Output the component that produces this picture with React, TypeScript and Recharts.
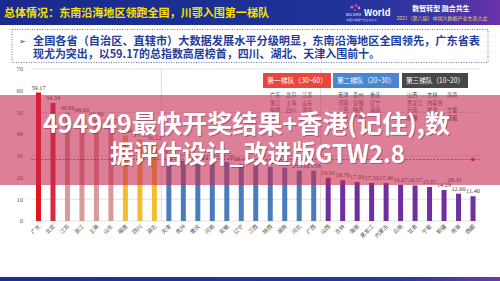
import React from 'react';
import { BarChart, Bar, XAxis, YAxis, CartesianGrid, LabelList, Cell, ReferenceLine, ReferenceDot } from 'recharts';

const provinces = ['广东', '北京', '江苏', '浙江', '上海', '山东', '福建', '四川', '湖北', '天津', '贵州', '重庆', '河南', '安徽', '辽宁', '江西', '陕西', '湖南', '河北', '广西', '山西', '吉林', '海南', '黑龙江', '内蒙古', '云南', '甘肃', '宁夏', '新疆', '青海', '西藏'];
const scores = [59.17, 54.34, 49.8, 48.6, 46.9, 43.55, 39.34, 37.45, 36.12, 29.7, 27.72, 27.26, 27.25, 27.2, 26.15, 25.58, 24.89, 24.55, 23.19, 23.18, 19.91, 18.76, 17.93, 17.5, 17.46, 16.67, 16.37, 15.65, 14.29, 12.6, 11.4];
const groups = ['lead', 'lead', 'upper', 'upper', 'upper', 'upper', 'rising', 'rising', 'rising', 'second', 'second', 'second', 'second', 'second', 'second', 'second', 'second', 'second', 'second', 'second', 'third', 'third', 'third', 'third', 'third', 'third', 'third', 'third', 'third', 'third', 'third'];
const yTicks = [0, 10, 20, 30, 40, 50, 60, 70];
const average = 28.31;

const tierTitles = ['第一梯队（30~60）', '第二梯队（20~30）', '第三梯队（10~20）'];
const tierRows = [
  [['广东', '北京', '江苏'], ['浙江', '上海', '山东'], ['福建', '四川', '湖北']],
  [['天津', '贵州', '重庆'], ['河南', '安徽', '辽宁'], ['江西', '陕西', '湖南'], ['河北', '广西']],
  [['山西', '吉林', '海南'], ['黑龙江', '内蒙古'], ['云南', '甘肃', '宁夏'], ['新疆', '青海', '西藏']],
];

const headline = '总体情况：东南沿海地区领跑全国，川鄂入围第一梯队';
const bulletLines = [
  '全国各省（自治区、直辖市）大数据发展水平分级明显，东南沿海地区全国领先，广东省表',
  '现尤为突出，以59.17的总指数高居榜首，四川、湖北、天津入围前十。',
];
const bannerLines = ['494949最快开奖结果+香港(记住),数', '据评估设计_改进版GTW2.8'];

const data = provinces.map((name, i) => ({ name, value: scores[i], group: groups[i] }));

const groupColor: Record<string, string> = {
  lead: '#e21b25',
  upper: '#d99a9c',
  rising: '#f4bd2d',
  second: '#4a7dbb',
  third: '#6f2f9f',
};
const leadShades = ['#e8141d', '#d62a3d'];

const tierBox = [
  { x: 263, w: 68, fill: '#e8463f', cols: [7, 23, 39] },
  { x: 333, w: 66, fill: '#4a86d0', cols: [5, 20, 37] },
  { x: 402, w: 66, fill: '#474747', cols: [5, 25, 45] },
];

const CJK = '"Noto Sans CJK SC", "Noto Sans", sans-serif';
const SERIF = '"Liberation Serif", "DejaVu Serif", serif';

const App: React.FC = () => {
  return (
    <div style={{ position: 'absolute', left: 0, top: 0, width: 500, height: 281, background: '#fff', overflow: 'hidden' }}>
      {/* header + intro text */}
      <svg width={500} height={281} style={{ position: 'absolute', left: 0, top: 0 }}>
        <defs>
          <linearGradient id="hdr" x1="0" y1="0" x2="1" y2="0">
            <stop offset="0%" stopColor="#1a2a8c" />
            <stop offset="65%" stopColor="#1d3196" />
            <stop offset="88%" stopColor="#3b35a6" />
            <stop offset="100%" stopColor="#6a33a8" />
          </linearGradient>
          <linearGradient id="ftr" x1="0" y1="0" x2="1" y2="0">
            <stop offset="0%" stopColor="#1c2d95" />
            <stop offset="80%" stopColor="#2a35a8" />
            <stop offset="100%" stopColor="#6a3aa8" />
          </linearGradient>
        </defs>
        <rect x={0} y={0} width={500} height={25} fill="url(#hdr)" />
        <text x={4} y={16.5} fontSize={11} fontWeight={700} fill="#f6e300" fontFamily={CJK} textLength={265} lengthAdjust="spacingAndGlyphs">{headline}</text>
        <circle cx={352} cy={7} r={1.6} fill="#e45aa0" />
        <circle cx={356} cy={5.5} r={1.3} fill="#b84fd0" />
        <circle cx={359} cy={8} r={1.4} fill="#f07ab8" />
        <circle cx={355} cy={10} r={1.1} fill="#9a5ad8" />
        <text x={346} y={16} fontSize={3.6} fill="#fff" fontFamily={CJK}>BIG DATA</text>
        <text x={364} y={16} fontSize={9} fontWeight={700} fill="#fff" fontFamily={CJK}>World</text>
        <text x={346} y={20.5} fontSize={2.8} fill="#c9cff5" fontFamily={CJK}>中国大数据产业生态大会</text>
        <text x={441} y={11} fontSize={7} fontWeight={700} fill="#fff" fontFamily={CJK} textAnchor="middle">数智转型  融合共生</text>
        <text x={442} y={20} fontSize={5} fill="#f2d06a" fontFamily={CJK} textAnchor="middle">2021（第六届）中国大数据产业生态大会</text>

        <rect x={12} y={29.5} width={476} height={33} fill="none" stroke="#6d7a98" strokeWidth={1} strokeDasharray="1 1.5" />
        <text x={19} y={44} fontSize={8} fill="#1f3d99" fontFamily='"DejaVu Sans", sans-serif'>➢</text>
        <text x={33} y={44.5} fontSize={11.2} fontWeight={700} fill="#1f3d99" fontFamily={CJK} textLength={447} lengthAdjust="spacingAndGlyphs">{bulletLines[0]}</text>
        <text x={33} y={58} fontSize={11.2} fontWeight={700} fill="#1f3d99" fontFamily={CJK} textLength={347} lengthAdjust="spacingAndGlyphs">{bulletLines[1]}</text>

        <rect x={0} y={277} width={500} height={4} fill="url(#ftr)" />
      </svg>

      <div style={{ position: 'absolute', left: 0, top: 0 }}>
        <BarChart width={500} height={281} data={data} margin={{ top: 69, right: 20, bottom: 30, left: 5 }}>
          <CartesianGrid vertical={false} stroke="#dcdcdc" strokeWidth={0.8} />
          <XAxis
            dataKey="name"
            interval={0}
            axisLine={false}
            tickLine={false}
            tickSize={0}
            tickMargin={3}
            height={30}
            angle={-45}
            textAnchor="end"
            tick={{ fontSize: 5.5, fill: '#555', fontFamily: CJK }}
          />
          <YAxis
            width={26}
            domain={[0, 70]}
            ticks={yTicks}
            axisLine={false}
            tickLine={false}
            tick={{ fontSize: 6.5, fill: '#595959', fontFamily: SERIF }}
          />
          <ReferenceLine x="天津" position="start" stroke="#d4d4d4" strokeWidth={0.8} />
          <ReferenceLine x="山西" position="start" stroke="#d4d4d4" strokeWidth={0.8} />
          <Bar dataKey="value" barSize={5} isAnimationActive={false}>
            {data.map((d, i) => (
              <Cell key={d.name} fill={d.group === 'lead' ? leadShades[i] : groupColor[d.group]} />
            ))}
            <LabelList
              dataKey="value"
              position="top"
              offset={3}
              formatter={(v: any) => Number(v).toFixed(2)}
              style={{ fontSize: 6.3, fill: '#404040', fontFamily: SERIF }}
            />
          </Bar>
          <ReferenceLine
            y={average}
            stroke="#b8203c"
            strokeWidth={0.8}
            strokeDasharray="2 1.5"
            label={{ value: average.toFixed(2), position: 'insideTopRight', offset: 18, fontSize: 6.5, fill: '#333', fontFamily: SERIF }}
          />
          <ReferenceDot x="西藏" y={average} r={1.8} fill="#b8203c" stroke="none" />
        </BarChart>
      </div>

      {/* tier legend + overlay banner */}
      <svg width={500} height={281} style={{ position: 'absolute', left: 0, top: 0, pointerEvents: 'none' }}>
        {tierTitles.map((t, k) => (
          <g key={t}>
            <rect x={tierBox[k].x} y={73} width={tierBox[k].w} height={15} fill={tierBox[k].fill} />
            <text x={tierBox[k].x + 4} y={83} fontSize={7} fill="#fff" fontFamily={CJK} textLength={tierBox[k].w - 8} lengthAdjust="spacingAndGlyphs">{t}</text>
            {tierRows[k].map((row, r) =>
              row.map((nm, c) => (
                <text key={nm} x={tierBox[k].x + tierBox[k].cols[c]} y={97 + r * 7.6} fontSize={5.2} fill="#444" fontFamily={CJK}>{nm}</text>
              ))
            )}
          </g>
        ))}
        <rect x={0} y={95} width={500} height={90} fill="rgba(196,42,82,0.6)" />
        {bannerLines.map((line, i) => (
          <g key={line}>
            <text x={44} y={133.5 + i * 30.5} dx={i === 1 ? 67 : 0} fontSize={25} fontWeight={700} fill="rgba(110,30,60,0.45)" fontFamily={CJK} textLength={i === 0 ? 407 : 295} lengthAdjust="spacingAndGlyphs">{line}</text>
            <text x={43} y={132.5 + i * 30.5} dx={i === 1 ? 67 : 0} fontSize={25} fontWeight={700} fill="#fff" fontFamily={CJK} textLength={i === 0 ? 407 : 295} lengthAdjust="spacingAndGlyphs">{line}</text>
          </g>
        ))}
      </svg>
    </div>
  );
};

export default App;
